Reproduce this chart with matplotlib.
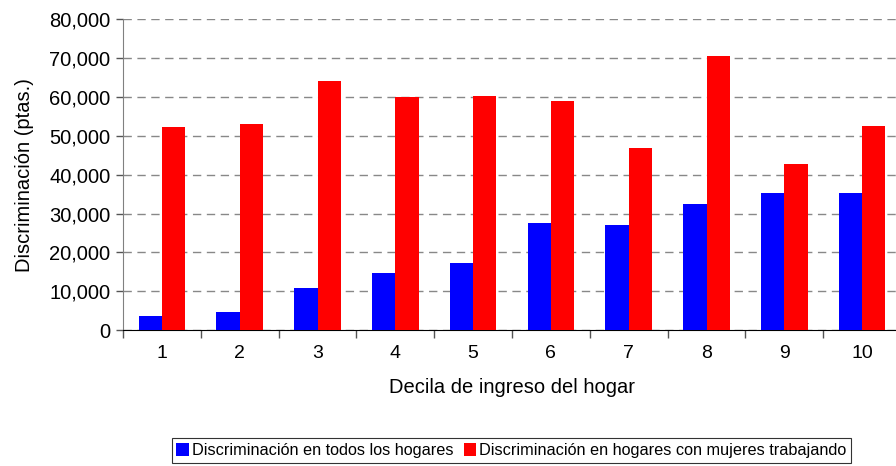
import numpy as np
import matplotlib.pyplot as plt
from matplotlib.ticker import FuncFormatter

deciles = ["1", "2", "3", "4", "5", "6", "7", "8", "9", "10"]
todos = [3500, 4600, 10900, 14600, 17300, 27500, 27000, 32400, 35200, 35200]
mujeres = [52200, 53000, 64200, 60000, 60300, 58900, 47000, 70600, 42700, 52500]

plt.rcParams["font.family"] = ["Liberation Sans", "DejaVu Sans"]

fig = plt.figure(figsize=(8.96, 4.66), dpi=100)
ax = fig.add_axes([0.1373, 0.2918, 0.8683, 0.6664])

x = np.arange(len(deciles))
w = 0.3
ax.bar(x - w / 2, todos, w, color="#0000ff", label="Discriminación en todos los hogares", zorder=3)
ax.bar(x + w / 2, mujeres, w, color="#ff0000", label="Discriminación en hogares con mujeres trabajando", zorder=3)

ax.set_xlim(-0.5, len(deciles) - 0.5)
ax.set_ylim(0, 80000)
ax.set_yticks(range(0, 80001, 10000))
ax.yaxis.set_major_formatter(FuncFormatter(lambda v, p: f"{int(v):,}"))
ax.set_xticks(x)
ax.set_xticklabels(deciles)
ax.set_xticks(np.arange(-0.5, len(deciles), 1), minor=True)
ax.tick_params(axis="x", which="major", length=0, pad=11, labelsize=14)
ax.tick_params(axis="x", which="minor", length=6, width=1, color="#555555")
ax.tick_params(axis="y", length=5, width=1, color="#555555", labelsize=14.5, pad=4)

ax.grid(axis="y", linestyle=(0, (6, 4)), color="#888888", linewidth=1, zorder=0)
for s in ["top", "right"]:
    ax.spines[s].set_visible(False)
ax.spines["left"].set_color("#808080")
ax.spines["bottom"].set_color("black")

ax.set_xlabel("Decila de ingreso del hogar", fontsize=14.5, labelpad=11)
ax.set_ylabel("Discriminación (ptas.)", fontsize=14.5, labelpad=11)

leg = fig.legend(loc="center", bbox_to_anchor=(0.5709, 0.033), ncol=2, fontsize=11.7,
                 frameon=True, fancybox=False, edgecolor="black", handlelength=0.75,
                 handleheight=0.85, handletextpad=0.2, columnspacing=0.65, borderpad=0.3,
                 borderaxespad=0)
leg.get_frame().set_linewidth(0.8)

fig.savefig("out.png", dpi=100)
